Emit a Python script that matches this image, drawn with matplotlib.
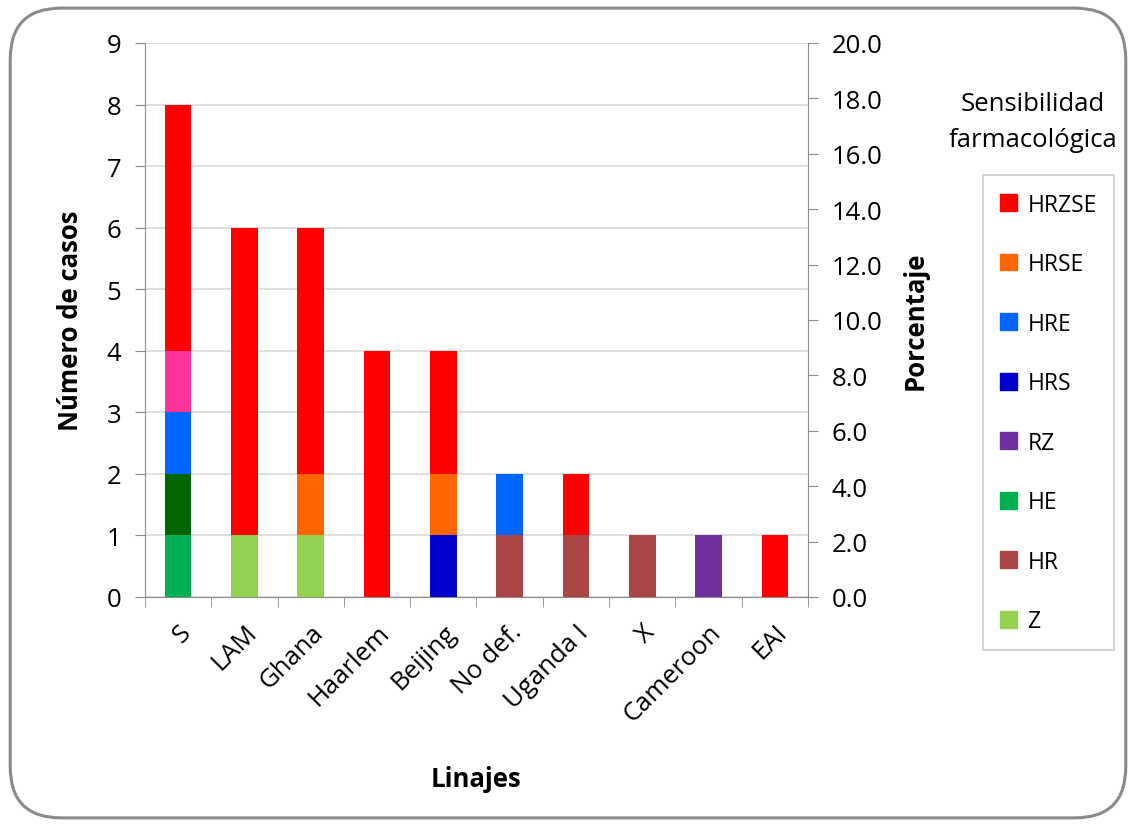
import numpy as np
import matplotlib
matplotlib.use("Agg")
import matplotlib.pyplot as plt
from matplotlib.patches import FancyBboxPatch, Patch

linajes = ["S", "LAM", "Ghana", "Haarlem", "Beijing", "No def.", "Uganda I", "X", "Cameroon", "EAI"]

# casos por linaje y perfil (orden de apilado de abajo hacia arriba)
Z      = [0, 1, 1, 0, 0, 0, 0, 0, 0, 0]
HE     = [1, 0, 0, 0, 0, 0, 0, 0, 0, 0]
OTRO_V = [1, 0, 0, 0, 0, 0, 0, 0, 0, 0]   # verde oscuro, sin leyenda
HR     = [0, 0, 0, 0, 0, 1, 1, 1, 0, 0]
HRS    = [0, 0, 0, 0, 1, 0, 0, 0, 0, 0]
RZ     = [0, 0, 0, 0, 0, 0, 0, 0, 1, 0]
HRSE   = [0, 0, 1, 0, 1, 0, 0, 0, 0, 0]
HRE    = [1, 0, 0, 0, 0, 1, 0, 0, 0, 0]
OTRO_R = [1, 0, 0, 0, 0, 0, 0, 0, 0, 0]   # rosa, sin leyenda
HRZSE  = [4, 5, 4, 4, 2, 0, 1, 0, 0, 1]

series = [("Z", Z, "#92D050"), ("HE", HE, "#00B050"), (None, OTRO_V, "#006600"),
          ("HR", HR, "#AA4643"), ("HRS", HRS, "#0000CC"), ("RZ", RZ, "#7030A0"),
          ("HRSE", HRSE, "#FF6600"), ("HRE", HRE, "#0066FF"), (None, OTRO_R, "#FF3399"),
          ("HRZSE", HRZSE, "#FF0000")]
orden_leyenda = ["HRZSE", "HRSE", "HRE", "HRS", "RZ", "HE", "HR", "Z"]

plt.rcParams["font.family"] = ["Open Sans", "DejaVu Sans"]
GRIS = "#8c8c8c"
FS = 18.5

fig = plt.figure(figsize=(11.36, 8.28), dpi=100)
fig.patches.append(FancyBboxPatch((0.009, 0.011), 0.982, 0.978, boxstyle="round,pad=0,rounding_size=0.045",
                                  transform=fig.transFigure, fill=False, ec="#8a8a8a", lw=2.2,
                                  mutation_aspect=1136 / 828))
ax = fig.add_axes([0.1276, 0.2778, 0.5837, 0.6691])
x = np.arange(len(linajes))
base = np.zeros(len(linajes))
colores = {}
for nombre, vals, col in series:
    ax.bar(x, vals, 0.4, bottom=base, color=col, zorder=3)
    base += np.array(vals)
    if nombre:
        colores[nombre] = col

ax.set_xlim(-0.5, len(linajes) - 0.5)
ax.set_ylim(0, 9)
ax.set_yticks(range(10))
ax.grid(True, axis="y", color="#d9d9d9", lw=1.2, zorder=0)
ax.set_xticks(x)
ax.set_xticklabels(linajes, rotation=45, ha="right", rotation_mode="anchor", fontsize=FS)
ax.set_xticks(np.arange(-0.5, len(linajes)), minor=True)
ax.tick_params(axis="x", which="major", length=0, pad=16)
ax.tick_params(axis="x", which="minor", length=7, color=GRIS)
ax.tick_params(axis="y", length=7, color=GRIS, labelsize=FS, pad=10)
for s in ["top", "right"]:
    ax.spines[s].set_visible(False)
for s in ["left", "bottom"]:
    ax.spines[s].set_color(GRIS)
ax.set_ylabel("Número de casos", fontsize=FS, fontweight="bold", labelpad=16)
ax.set_xlabel("Linajes", fontsize=FS, fontweight="bold", labelpad=28)

ax2 = ax.twinx()
ax2.set_ylim(0, 20)
ax2.set_yticks(np.arange(0, 21, 2))
ax2.set_yticklabels([f"{v:.1f}" for v in np.arange(0, 21, 2)])
ax2.tick_params(axis="y", length=7, color=GRIS, labelsize=FS, pad=10)
for s in ["top", "left", "bottom"]:
    ax2.spines[s].set_visible(False)
ax2.spines["right"].set_color(GRIS)
ax2.set_ylabel("Porcentaje", fontsize=FS, fontweight="bold", labelpad=14)

fig.text(0.909, 0.852, "Sensibilidad\nfarmacológica", ha="center", va="center", fontsize=FS, linespacing=1.6)
handles = [Patch(color=colores[n], label=n) for n in orden_leyenda]
leg = fig.legend(handles=handles, loc="upper left", bbox_to_anchor=(0.865, 0.787), borderaxespad=0,
                 fontsize=16.5, frameon=True, fancybox=False, edgecolor="#bfbfbf", labelspacing=1.55,
                 handlelength=0.75, handleheight=0.75, handletextpad=0.45, borderpad=0.75)
leg.get_frame().set_linewidth(1.2)

fig.savefig("out.png", dpi=100)
